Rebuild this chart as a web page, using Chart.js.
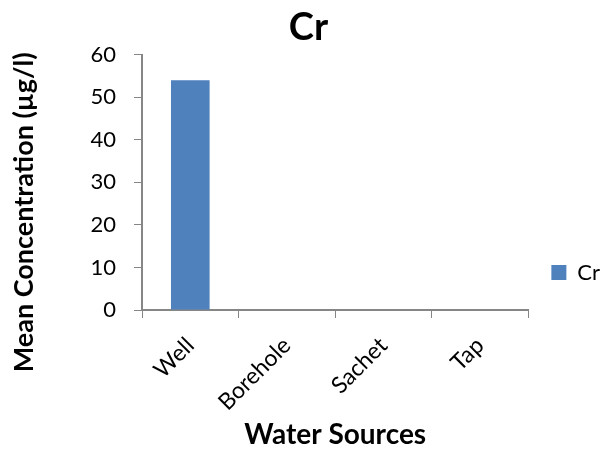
<!DOCTYPE html>
<html>
<head>
<meta charset="utf-8">
<script src="https://cdn.jsdelivr.net/npm/chart.js@4.4.1/dist/chart.umd.min.js"></script>
<style>
  html, body { margin: 0; padding: 0; background: #ffffff; }
  #wrap { width: 601px; height: 457px; }
</style>
</head>
<body>
<div id="wrap"><canvas id="c" width="601" height="457"></canvas></div>
<script>
// Mean chromium concentration by water source
const chartTitle = 'Cr';
const categories = ['Well', 'Borehole', 'Sachet', 'Tap'];
const seriesName = 'Cr';
const crValues = [54, 0, 0, 0];
const yTicks = [0, 10, 20, 30, 40, 50, 60];
const xAxisTitle = 'Water Sources';
const yAxisTitle = 'Mean Concentration (µg/l)';

const FONT = 'Lato, "DejaVu Sans", sans-serif';
const AXIS_GREY = '#868686';

// Nudges the legend, chart title and y-axis title into their places
const placementPlugin = {
  id: 'placement',
  afterLayout(chart) {
    const lg = chart.legend;
    if (lg) { lg.top += 44; lg.bottom += 44; lg.left += 9; lg.right += 9; }
    const tb = chart.titleBlock;
    if (tb) { tb.left += 8; tb.right += 8; }
    const ys = chart.scales.y;
    if (ys && !ys._titleShifted) {
      const orig = ys.drawTitle;
      ys.drawTitle = function () {
        const b = this.bottom;
        this.bottom = b + 60;
        orig.apply(this, arguments);
        this.bottom = b;
      };
      ys._titleShifted = true;
    }
  }
};

new Chart(document.getElementById('c'), {
  type: 'bar',
  data: {
    labels: categories,
    datasets: [{
      label: seriesName,
      data: crValues,
      backgroundColor: '#4F81BD',
      borderWidth: 0,
      barPercentage: 0.4,
      categoryPercentage: 1.0
    }]
  },
  options: {
    responsive: false,
    animation: false,
    devicePixelRatio: 1,
    layout: { padding: { left: 0, right: 0, top: 0, bottom: 0 } },
    plugins: {
      title: {
        display: true,
        text: chartTitle,
        color: '#000',
        font: { family: FONT, size: 38, weight: 'bold' },
        padding: { top: 5, bottom: 4 }
      },
      legend: {
        display: true,
        position: 'right',
        align: 'center',
        labels: {
          color: '#000',
          font: { family: FONT, size: 22 },
          boxWidth: 15,
          boxHeight: 15,
          padding: 14
        }
      },
      tooltip: { enabled: false }
    },
    scales: {
      x: {
        type: 'category',
        offset: true,
        grid: {
          display: true,
          offset: true,
          drawOnChartArea: false,
          drawTicks: true,
          tickLength: 8,
          color: AXIS_GREY,
          lineWidth: 1
        },
        border: { display: true, color: AXIS_GREY, width: 2 },
        ticks: {
          color: '#000',
          font: { family: FONT, size: 23 },
          minRotation: 45,
          maxRotation: 45,
          padding: 14
        },
        title: {
          display: true,
          text: xAxisTitle,
          color: '#000',
          font: { family: FONT, size: 28, weight: 'bold' },
          padding: { top: 4, bottom: 5 }
        },
        afterFit(scale) { scale.height = 147; }
      },
      y: {
        type: 'linear',
        min: 0,
        max: 60,
        afterBuildTicks(scale) { scale.ticks = yTicks.map(v => ({ value: v })); },
        grid: {
          display: true,
          drawOnChartArea: false,
          drawTicks: true,
          tickLength: 8,
          color: AXIS_GREY,
          lineWidth: 1
        },
        border: { display: true, color: AXIS_GREY, width: 2 },
        ticks: {
          color: '#000',
          font: { family: FONT, size: 22 },
          padding: 18
        },
        title: {
          display: true,
          text: yAxisTitle,
          color: '#000',
          font: { family: FONT, size: 27, weight: 'bold' },
          padding: { top: 8, bottom: 4 }
        },
        afterFit(scale) { scale.width = 142; }
      }
    }
  },
  plugins: [placementPlugin]
});
</script>
</body>
</html>
